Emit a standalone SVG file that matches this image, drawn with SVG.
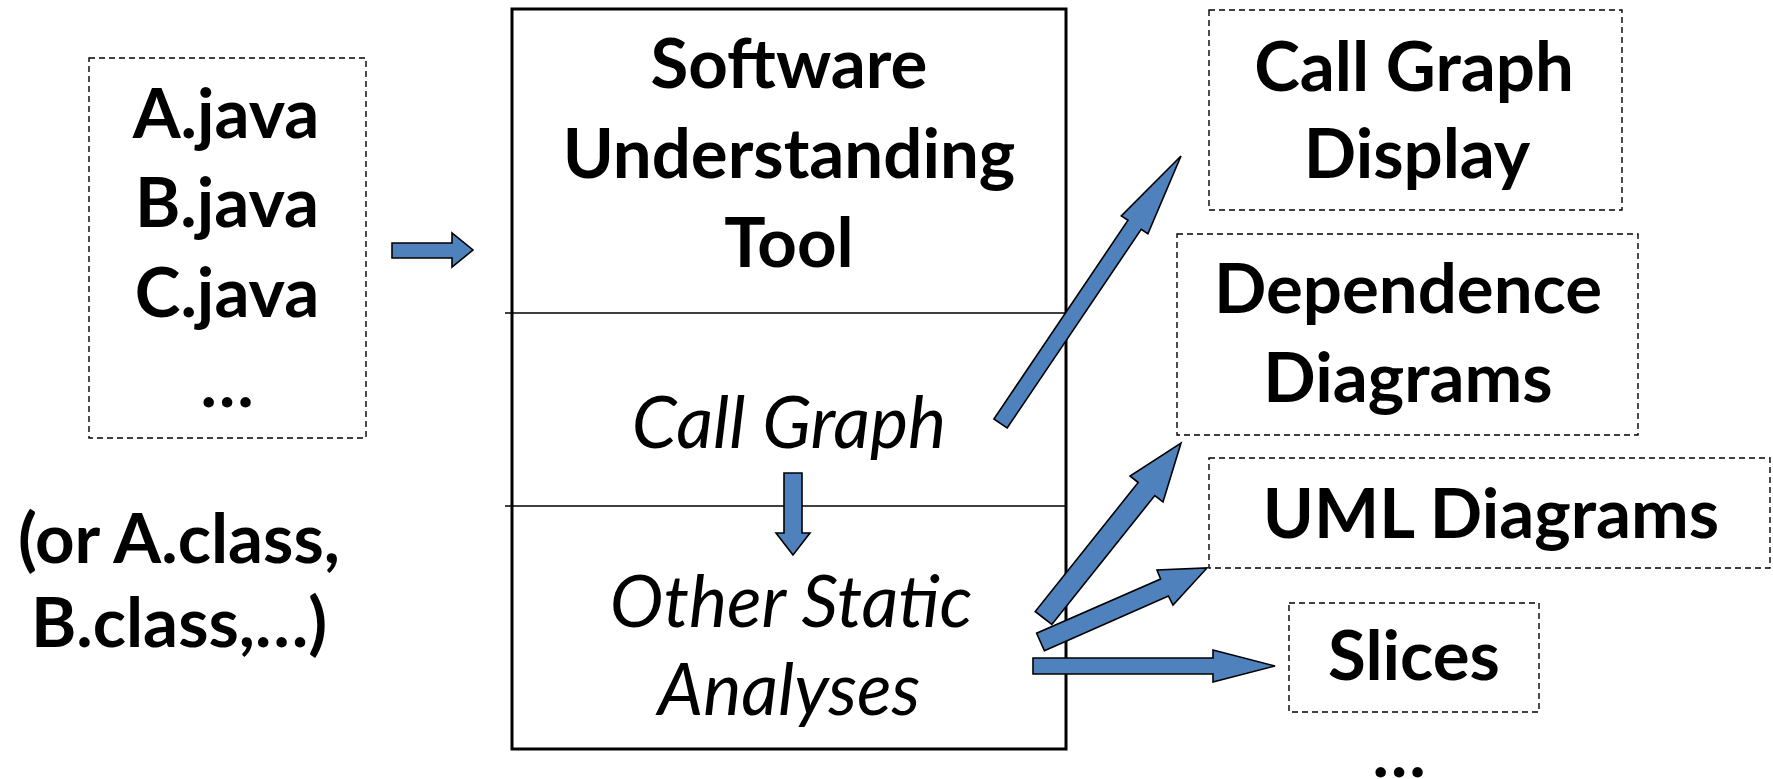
<svg xmlns="http://www.w3.org/2000/svg" width="1773" height="779" viewBox="0 0 1773 779">
<style>
.dash{fill:none;stroke:#000;stroke-width:1.4;stroke-dasharray:6 4}
.b{font-family:Lato,"Open Sans","Liberation Sans",sans-serif;font-weight:bold;font-size:69px;fill:#000;text-anchor:middle}
.i{font-family:Lato,"Open Sans","Liberation Sans",sans-serif;font-style:italic;font-size:72px;fill:#000;text-anchor:middle}
.arr{fill:#4F81BD;stroke:#000;stroke-width:1.6;stroke-linejoin:miter}
</style>
<rect width="1773" height="779" fill="#fff"/>
<g id="sources">
<rect class="dash" x="89" y="58" width="277" height="380"/>
<text class="b" x="226" y="138">A.java</text>
<text class="b" x="227" y="227">B.java</text>
<text class="b" x="227" y="317">C.java</text>
<text class="b" x="227" y="407">…</text>
</g>
<g id="classes-note">
<text class="b" x="179" y="563">(or A.class,</text>
<text class="b" x="179" y="647">B.class,…)</text>
</g>
<g id="tool">
<rect x="512" y="9" width="554" height="740" fill="none" stroke="#000" stroke-width="3"/>
<line x1="505" y1="313" x2="1066" y2="313" stroke="#000" stroke-width="1.6"/>
<line x1="505" y1="506" x2="1066" y2="506" stroke="#000" stroke-width="1.6"/>
<text class="b" x="789" y="88">Software</text>
<text class="b" x="789" y="178">Understanding</text>
<text class="b" x="789" y="267">Tool</text>
<text class="i" x="789" y="448">Call Graph</text>
<text class="i" x="791" y="627">Other Static</text>
<text class="i" x="789" y="715">Analyses</text>
</g>
<g id="callgraph-display">
<rect class="dash" x="1209" y="10" width="413" height="200"/>
<text class="b" x="1414" y="91">Call Graph</text>
<text class="b" x="1417" y="178">Display</text>
</g>
<g id="dependence-diagrams">
<rect class="dash" x="1177" y="234" width="461" height="201"/>
<text class="b" x="1408" y="313">Dependence</text>
<text class="b" x="1408" y="402">Diagrams</text>
</g>
<g id="uml-diagrams">
<rect class="dash" x="1209" y="458" width="561" height="110"/>
<text class="b" x="1491" y="538">UML Diagrams</text>
</g>
<g id="slices">
<rect class="dash" x="1289" y="603" width="250" height="109"/>
<text class="b" x="1414" y="680">Slices</text>
</g>
<g id="more">
<text class="b" x="1399" y="777">…</text>
</g>
<g id="connectors">
<polygon class="arr" points="392,243 452,243 452,233 473,250 452,267 452,258 392,258"/>
<polygon class="arr" points="784,473 802,473 802,533 810,533 793,555 776,533 784,533"/>
<polygon class="arr" points="1007.1,428 1141.2,229.3 1147.9,233.7 1181,156 1121.3,215.9 1128,220.3 993.9,419"/>
<polygon class="arr" points="1051.8,624.5 1154.8,495.5 1163,502 1181,443 1130,476 1138.2,482.5 1035.2,611.5"/>
<polygon class="arr" points="1044.4,650.8 1168.4,596 1173,605 1207,568 1157,570 1160.6,579 1036.6,633.2"/>
<polygon class="arr" points="1033,658 1213,658 1213,650 1275,666 1213,682 1213,674 1033,674"/>
</g>
</svg>
